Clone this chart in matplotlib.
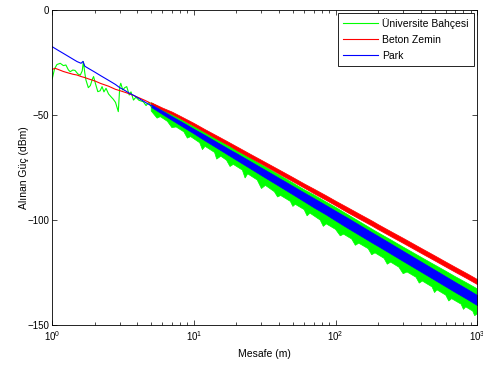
import numpy as np
import matplotlib
matplotlib.use("Agg")
import matplotlib.pyplot as plt

plt.rcParams['font.family'] = ['Liberation Sans', 'DejaVu Sans']

# values: distance (m), received power (dBm)
# first metres: every curve is still a single line
green_d = [1.00, 1.04, 1.08, 1.14, 1.2, 1.25, 1.3, 1.34, 1.4, 1.45, 1.52, 1.58,
           1.63, 1.66, 1.7, 1.73, 1.8, 1.86, 1.92, 1.96, 2.02, 2.1, 2.18, 2.25,
           2.32, 2.4, 2.5, 2.6, 2.7, 2.8, 2.93, 3.0, 3.05, 3.15, 3.25, 3.36,
           3.5, 3.6, 3.75, 3.9, 4.1, 4.4, 4.6, 4.8, 5.0]
green_p = [-32.9, -28.0, -26.0, -25.4, -26.5, -26.2, -28.5, -29.4, -28.6, -28.8,
           -30.5, -31.0, -29.0, -24.6, -30.0, -33.3, -37.0, -36.0, -33.0, -31.7,
           -35.0, -38.9, -38.5, -36.5, -39.0, -37.3, -40.0, -41.3, -42.5, -44.0,
           -48.4, -36.5, -34.9, -38.1, -37.0, -36.5, -40.5, -39.0, -42.9, -41.5,
           -43.0, -43.7, -45.5, -44.0, -46.0]

red_d = [1.0, 1.05, 1.1, 1.2, 1.3, 1.4, 1.5, 1.6, 1.7, 1.8, 2.0, 2.2, 2.5, 2.8,
         3.0, 3.3, 3.6, 4.0, 4.5, 5.0]
red_p = [-28.3, -27.8, -28.3, -29.3, -30.0, -30.6, -31.0, -31.7, -32.2, -32.8,
         -33.8, -35.0, -36.3, -37.8, -38.4, -39.3, -40.2, -41.5, -43.0, -44.5]

blue_d = [1.0, 1.1, 1.2, 1.3, 1.4, 1.5, 1.6, 1.65, 1.7, 1.8, 2.0, 2.2, 2.5, 2.8,
          3.0, 3.2, 3.5, 3.8, 4.0, 4.5, 5.0]
blue_p = [-17.5, -19.2, -20.7, -22.1, -23.4, -24.6, -25.4, -24.5, -26.8, -27.8,
          -29.6, -31.3, -33.5, -35.5, -37.0, -38.0, -39.6, -40.8, -41.7, -43.8,
          -45.6]

# from 5 m on the curves are dense noise bands: upper and lower edges
band_d = [5, 6, 7, 8, 10, 12, 15, 18, 20, 25, 30, 40, 50, 60, 70, 85, 100,
          120, 150, 180, 200, 250, 300, 400, 500, 600, 700, 850, 1000]
red_hi = [-44.0, -46.5, -48.4, -50.4, -53.8, -56.8, -60.3, -63.2, -64.9, -68.5,
          -71.4, -76.0, -79.6, -82.6, -85.0, -88.1, -90.8, -93.7, -97.3, -100.2,
          -102.0, -105.6, -108.5, -113.2, -116.8, -119.8, -122.3, -125.4, -128.1]
red_lo = [-45.0, -47.5, -49.6, -51.6, -55.2, -58.2, -61.9, -64.8, -66.7, -70.3,
          -73.2, -78.0, -81.6, -84.6, -87.2, -90.3, -93.0, -96.1, -99.7, -102.6,
          -104.4, -108.0, -110.9, -115.6, -119.2, -122.2, -124.7, -127.8, -130.5]
blue_hi = [-45.0, -48.0, -50.6, -52.8, -56.6, -59.6, -63.4, -66.5, -68.2, -72.0,
           -75.1, -80.0, -83.8, -86.9, -89.5, -92.8, -95.6, -98.7, -102.6, -105.8,
           -107.6, -111.5, -114.7, -119.7, -123.6, -126.8, -129.5, -132.8, -135.7]
blue_lo = [-46.2, -49.6, -52.4, -54.8, -58.8, -62.2, -66.2, -69.5, -71.4, -75.4,
           -78.7, -83.8, -87.8, -91.1, -93.9, -97.2, -100.2, -103.5, -107.4, -110.6,
           -112.4, -116.3, -119.5, -124.5, -128.4, -131.6, -134.3, -137.6, -140.5]
green_hi = [-44.1, -47.3, -49.7, -51.8, -55.5, -58.4, -62.0, -65.0, -66.8, -70.5,
            -73.6, -78.5, -82.3, -85.5, -87.9, -91.2, -93.9, -97.1, -101.0, -104.2,
            -106.0, -109.7, -112.8, -117.6, -121.3, -124.3, -126.9, -130.0, -132.7]
# lower green edge with its downward spikes
green_lo_d = [5, 5.5, 5.8, 6.5, 7, 7.5, 8.5, 9, 9.5, 11, 11.5, 12, 14, 14.5, 15.5,
              17, 18, 19, 22, 23, 24, 28, 30, 32, 37, 39, 41, 48, 50, 52, 60, 63,
              66, 78, 82, 86, 100, 108, 114, 130, 138, 146, 170, 180, 190, 220,
              232, 245, 280, 300, 320, 370, 390, 410, 480, 500, 520, 600, 630,
              660, 770, 800, 830, 930, 960, 1000]
green_lo = [-48.1, -51.5, -50.8, -53.0, -56.0, -55.7, -58.0, -61.0, -60.3, -63.2,
            -66.5, -64.9, -67.8, -71.0, -69.6, -71.5, -74.5, -73.5, -76.2, -80.0,
            -78.0, -80.9, -85.0, -83.5, -86.5, -89.0, -88.3, -91.1, -93.5, -92.5,
            -95.0, -98.0, -96.7, -100.0, -103.0, -101.8, -104.4, -107.5, -106.7,
            -109.0, -112.0, -111.0, -113.6, -116.5, -115.6, -118.2, -121.0, -120.0,
            -122.4, -125.5, -124.7, -127.2, -130.0, -129.0, -131.8, -134.5, -133.2,
            -135.7, -138.5, -137.4, -140.0, -142.5, -141.3, -143.3, -145.5, -144.6]

labels = ['Üniversite Bahçesi', 'Beton Zemin', 'Park']
G, R, B = '#00ff00', '#ff0000', '#0000ff'

fig = plt.figure(figsize=(4.83, 3.67), dpi=100)
ax = fig.add_axes([0.108, 0.114, 0.880, 0.859])

# green
ax.plot(green_d, green_p, color=G, lw=0.8, label=labels[0])
ax.fill(np.r_[band_d, green_lo_d[::-1]], np.r_[green_hi, green_lo[::-1]],
        color=G, lw=0.5)
# red
ax.plot(red_d, red_p, color=R, lw=0.8, label=labels[1])
ax.fill_between(band_d, red_lo, red_hi, color=R, lw=0.5)
# blue
ax.plot(blue_d, blue_p, color=B, lw=0.8, label=labels[2])
ax.fill_between(band_d, blue_lo, blue_hi, color=B, lw=0.5)

ax.set_xscale('log')
ax.set_xlim(1, 1000)
ax.set_ylim(-150, 0)
ax.set_yticks([-150, -100, -50, 0])
ax.tick_params(which='both', direction='in', top=True, right=True,
               labelsize=7, width=0.5, pad=3)
ax.tick_params(axis='y', pad=2)
ax.tick_params(which='major', length=3.5)
ax.tick_params(which='minor', length=2)
for s in ax.spines.values():
    s.set_linewidth(0.6)

ax.set_xlabel('Mesafe (m)', fontsize=7.5, labelpad=4)
ax.set_ylabel('Alınan Güç (dBm)', fontsize=7.5)
ax.yaxis.set_label_coords(-0.055, 0.5)

leg = ax.legend(loc='upper right', fontsize=7.5, fancybox=False,
                edgecolor='black', framealpha=1, borderaxespad=0.3,
                handlelength=3.4, handletextpad=0.4, labelspacing=0.55,
                borderpad=0.5)
leg.get_frame().set_linewidth(0.6)

fig.savefig('out.png', dpi=100)
